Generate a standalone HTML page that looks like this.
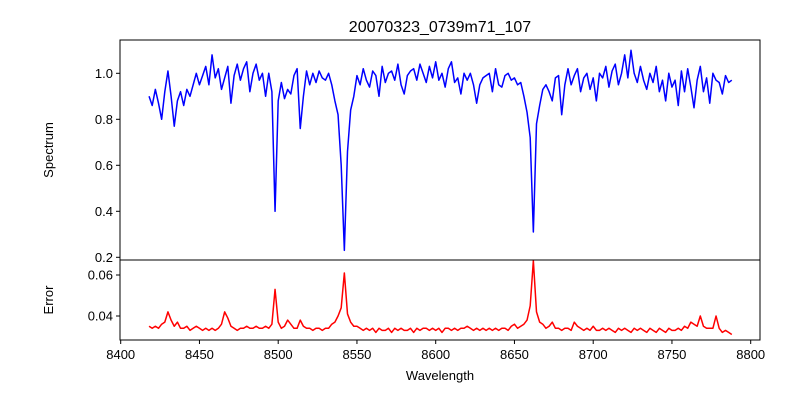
<!DOCTYPE html>
<html><head><meta charset="utf-8"><style>
html,body{margin:0;padding:0;background:#fff;}
svg{display:block;font-family:"Liberation Sans","DejaVu Sans",sans-serif;}
</style></head><body>
<svg id="chart" width="800" height="400" viewBox="0 0 800 400">
<rect width="800" height="400" fill="#fff"/>
<text x="440" y="32" font-size="16" text-anchor="middle">20070323_0739m71_107</text>
<g id="topgrp"></g><g id="botgrp"></g>
<text x="440" y="380" font-size="13" text-anchor="middle">Wavelength</text>
<text transform="translate(53,150) rotate(-90)" font-size="13" text-anchor="middle">Spectrum</text>
<text transform="translate(53,300) rotate(-90)" font-size="13" text-anchor="middle">Error</text>
</svg>
<script>
const wlStart = 8418, wlStep = 2;
const spectrum = [0.90,0.86,0.93,0.87,0.80,0.92,1.01,0.90,0.77,0.88,0.92,0.86,0.93,0.90,0.95,1.00,0.95,0.99,1.03,0.95,1.08,0.98,1.02,0.93,0.98,1.03,0.87,0.99,1.04,0.97,1.02,1.05,0.92,1.00,1.04,0.97,1.00,0.90,1.00,0.92,0.40,0.88,0.96,0.89,0.93,0.91,0.99,1.02,0.76,0.90,1.01,0.95,1.00,0.96,1.01,0.98,0.97,1.00,0.95,0.88,0.82,0.60,0.23,0.66,0.84,0.90,0.99,0.95,1.02,0.97,0.94,1.01,0.99,0.90,1.03,0.96,1.00,1.01,0.97,1.04,0.95,0.91,0.99,1.01,1.02,0.97,1.04,1.00,0.96,1.03,0.98,1.05,0.97,1.00,0.94,1.02,1.05,0.96,0.98,0.91,1.00,0.97,1.00,0.95,0.87,0.95,0.98,0.99,1.00,0.92,1.02,0.95,0.94,0.99,1.00,0.97,0.98,0.95,0.96,0.90,0.83,0.72,0.31,0.78,0.86,0.93,0.95,0.92,0.88,0.98,0.99,0.82,0.95,1.02,0.95,0.99,1.02,0.92,0.98,1.00,0.93,0.98,0.88,1.00,0.98,1.03,0.94,1.01,1.04,0.95,1.00,1.08,0.98,1.10,1.00,0.96,1.03,0.97,0.93,1.00,0.96,1.03,0.92,0.97,0.88,1.00,0.94,0.97,0.86,1.01,0.92,1.02,0.94,0.85,0.97,1.03,0.92,0.98,0.87,1.00,0.97,0.96,0.91,0.99,0.96,0.97];
const errors = [
0.035,0.034,0.035,0.034,0.036,0.037,0.042,0.038,0.035,0.037,
0.034,0.034,0.035,0.033,0.034,0.035,0.034,0.033,0.034,0.033,
0.034,0.033,0.034,0.036,0.042,0.039,0.035,0.034,0.033,0.034,
0.034,0.035,0.034,0.034,0.035,0.034,0.034,0.035,0.034,0.036,
0.053,0.037,0.034,0.035,0.038,0.036,0.034,0.034,0.038,0.035,
0.034,0.034,0.033,0.034,0.034,0.033,0.034,0.034,0.036,0.037,
0.040,0.044,0.061,0.041,0.037,0.035,0.035,0.034,0.033,0.034,
0.033,0.034,0.032,0.034,0.033,0.033,0.034,0.032,0.034,0.033,
0.034,0.033,0.033,0.034,0.032,0.034,0.033,0.034,0.034,0.033,
0.034,0.033,0.034,0.032,0.034,0.034,0.033,0.034,0.033,0.034,
0.034,0.035,0.034,0.033,0.034,0.033,0.034,0.033,0.034,0.033,
0.034,0.033,0.034,0.034,0.033,0.035,0.036,0.034,0.035,0.036,
0.038,0.045,0.067,0.042,0.037,0.036,0.034,0.035,0.037,0.034,
0.034,0.033,0.034,0.034,0.033,0.037,0.035,0.034,0.033,0.034,
0.033,0.035,0.033,0.033,0.034,0.033,0.034,0.033,0.032,0.034,
0.033,0.034,0.033,0.032,0.034,0.033,0.034,0.033,0.032,0.034,
0.033,0.032,0.034,0.033,0.032,0.034,0.033,0.033,0.034,0.033,
0.035,0.034,0.037,0.036,0.035,0.040,0.035,0.034,0.034,0.034,
0.040,0.034,0.032,0.033,0.032,0.031];
const xTicks = [8400,8450,8500,8550,8600,8650,8700,8750,8800];
const specTicks = [0.2,0.4,0.6,0.8,1.0];
const errTicks = [0.04,0.06];

const NS="http://www.w3.org/2000/svg";
const L=120,R=760;
const x = w => 120.7 + (w-8400)*1.575;
const yS = v => 73.3 - (v-1.0)*230;
const yE = v => 316 - (v-0.04)*2050;
function mk(tag,attrs,parent){const e=document.createElementNS(NS,tag);for(const k in attrs)e.setAttribute(k,attrs[k]);parent.appendChild(e);return e;}
const gTop=document.getElementById('topgrp'), gBot=document.getElementById('botgrp');

let d=spectrum.map((v,i)=>(i?'L':'M')+x(wlStart+i*wlStep).toFixed(2)+','+yS(v).toFixed(2)).join('');
const sl=mk('path',{d:d,fill:'none',stroke:'#0000ff','stroke-width':1.5,'stroke-linejoin':'round'},gTop);


d=errors.map((v,i)=>(i?'L':'M')+x(wlStart+i*wlStep).toFixed(2)+','+yE(v).toFixed(2)).join('');
const el=mk('path',{d:d,fill:'none',stroke:'#ff0000','stroke-width':1.5,'stroke-linejoin':'round'},gBot);



const f1=mk('rect',{x:L,y:40,width:R-L,height:220,fill:'none',stroke:'#000','stroke-width':1},gTop);


const f2=mk('rect',{x:L,y:260,width:R-L,height:80,fill:'none',stroke:'#000','stroke-width':1},gBot);



specTicks.forEach(t=>{const y=yS(t);
 mk('line',{x1:L-4,x2:L,y1:y,y2:y,stroke:'#000'},gTop);
 const tx=mk('text',{x:L-7,y:y+4.5,'font-size':13,'text-anchor':'end'},gTop);tx.textContent=t.toFixed(1);
 
 });
errTicks.forEach(t=>{const y=yE(t);
 mk('line',{x1:L-4,x2:L,y1:y,y2:y,stroke:'#000'},gBot);
 const tx=mk('text',{x:L-7,y:y+4.5,'font-size':13,'text-anchor':'end'},gBot);tx.textContent=t.toFixed(2);
 
 });
xTicks.forEach(t=>{const xx=x(t);
 mk('line',{x1:xx,x2:xx,y1:340,y2:344,stroke:'#000'},gBot);
 const tx=mk('text',{x:xx,y:359,'font-size':13,'text-anchor':'middle'},gBot);tx.textContent=t;
 
 });
</script>
</body></html>
